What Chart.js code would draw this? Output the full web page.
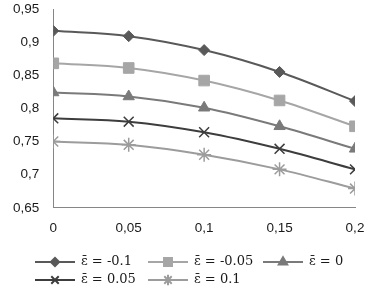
<!DOCTYPE html>
<html>
<head>
<meta charset="utf-8">
<script src="https://cdn.jsdelivr.net/npm/chart.js@4"></script>
<style>
  html, body { margin: 0; padding: 0; background: #fff; }
</style>
</head>
<body>
<canvas id="myChart" width="384" height="296"></canvas>
<script>
const xValues = [0, 0.05, 0.1, 0.15, 0.2];
const seriesLabels = ['ε̄ = -0.1', 'ε̄ = -0.05', 'ε̄ = 0', 'ε̄ = 0.05', 'ε̄ = 0.1'];
const epsM010 = [0.917, 0.909, 0.888, 0.855, 0.811];
const epsM005 = [0.868, 0.861, 0.842, 0.812, 0.773];
const eps000 = [0.824, 0.818, 0.801, 0.773, 0.739];
const eps005 = [0.785, 0.780, 0.764, 0.739, 0.708];
const eps010 = [0.750, 0.745, 0.730, 0.708, 0.679];

const seriesValues = [epsM010, epsM005, eps000, eps005, eps010];
const colors = ['#595959', '#a6a6a6', '#7a7a7a', '#3d3d3d', '#9c9c9c'];
const styles = ['rectRot', 'rect', 'triangle', 'crossRot', 'star'];
const radii = [5.5, 7.5, 6.5, 7, 7];

const fmt = v => String(Math.round(v * 100) / 100).replace('.', ',');

// legend like excel: line + marker, grid of 3 columns
const legendPlugin = {
    id: 'lineLegend',
    afterDraw(chart) {
        const c = chart.ctx;
        const cols = [35, 148, 263];
        const rows = [262, 280];
        chart.data.datasets.forEach((ds, i) => {
            const x0 = cols[i % 3];
            const y = rows[Math.floor(i / 3)];
            c.save();
            c.strokeStyle = ds.borderColor;
            c.lineWidth = 2;
            c.beginPath();
            c.moveTo(x0, y);
            c.lineTo(x0 + 40, y);
            c.stroke();
            c.fillStyle = ds.pointBackgroundColor;
            c.strokeStyle = ds.pointBorderColor;
            Chart.helpers.drawPoint(c, {
                pointStyle: ds.pointStyle,
                radius: ds.pointRadius * 0.75,
                rotation: 0,
                borderWidth: ds.pointBorderWidth
            }, x0 + 20, y);
            c.fillStyle = '#1a1a1a';
            c.font = '13px "DejaVu Serif"';
            c.textBaseline = 'middle';
            c.fillText(ds.label, x0 + 46, y);
            c.restore();
        });
    }
};

const ctx = document.getElementById('myChart').getContext('2d');
const myChart = new Chart(ctx, {
    type: 'line',
    data: {
        datasets: seriesValues.map((vals, i) => ({
            label: seriesLabels[i],
            data: vals.map((v, j) => ({ x: xValues[j], y: v })),
            borderColor: colors[i],
            borderWidth: 2,
            tension: 0.35,
            pointStyle: styles[i],
            pointRadius: radii[i],
            pointBackgroundColor: colors[i],
            pointBorderColor: colors[i],
            pointBorderWidth: (i >= 3) ? 1.5 : 1,
            fill: false
        }))
    },
    options: {
        responsive: false,
        animation: false,
        layout: {
            padding: { left: 13, right: 29, top: 9, bottom: 48 }
        },
        scales: {
            x: {
                type: 'linear',
                min: 0,
                max: 0.2,
                grid: { display: false, drawTicks: false },
                border: { display: true, color: '#868686', width: 1 },
                ticks: {
                    stepSize: 0.05,
                    padding: 12,
                    color: '#1a1a1a',
                    font: { family: '"Liberation Sans"', size: 13.5 },
                    callback: v => fmt(v)
                },
                afterFit: s => { s.paddingLeft = 0; s.paddingRight = 0; }
            },
            y: {
                min: 0.65,
                max: 0.95,
                grid: { display: false, drawTicks: false },
                border: { display: true, color: '#868686', width: 1 },
                ticks: {
                    stepSize: 0.05,
                    padding: 14,
                    color: '#1a1a1a',
                    font: { family: '"Liberation Sans"', size: 13.5 },
                    callback: v => fmt(v)
                },
                afterFit: s => { s.paddingTop = 0; s.paddingBottom = 0; s.width -= 14; }
            }
        },
        plugins: {
            legend: { display: false },
            tooltip: { enabled: false }
        }
    },
    plugins: [legendPlugin]
});
</script>
</body>
</html>
